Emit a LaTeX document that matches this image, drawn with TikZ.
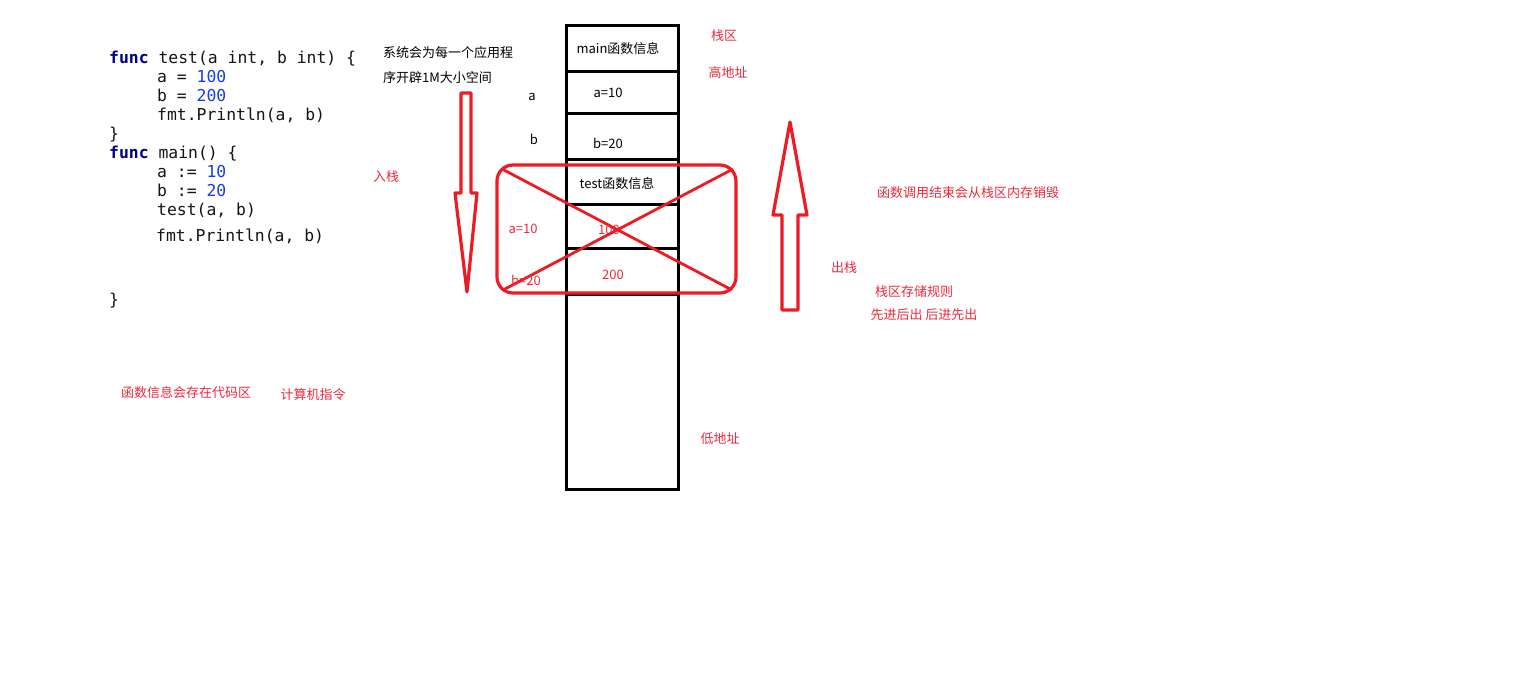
\documentclass[tikz,border=0pt]{standalone}
\usepackage{fontspec}
\setmainfont{Noto Sans CJK SC}
\newfontfamily\codefont{DejaVu Sans Mono}
\definecolor{pred}{RGB}{237,28,36}
\definecolor{tred}{RGB}{240,40,60}
\definecolor{kw}{RGB}{0,0,128}
\definecolor{num}{RGB}{23,60,235}
\definecolor{txt}{RGB}{20,20,20}
\begin{document}
\begin{tikzpicture}[x=1pt,y=-1pt,
  code/.style={anchor=base west,inner sep=0pt,font=\codefont\fontsize{16.4}{19}\selectfont,text=txt},
  lbl/.style={inner sep=0pt,font=\fontsize{13}{15}\selectfont,text=black},
  rlbl/.style={lbl,text=tred},
  stackline/.style={line width=3pt,black},
  redline/.style={line width=3.2pt,pred}]
\useasboundingbox[fill=white] (0,0) rectangle (1532,699);
% code
\node[code] (c1) at (109,63) {\textbf{\textcolor{kw}{func}} test(a int, b int) \{};
\node[code] (c2) at (157,82) {a = \textcolor{num}{100}};
\node[code] (c3) at (157,101) {b = \textcolor{num}{200}};
\node[code] (c4) at (157,120) {fmt.Println(a, b)};
\node[code] (c5) at (109,139) {\}};
\node[code] (c6) at (109,158) {\textbf{\textcolor{kw}{func}} main() \{};
\node[code] (c7) at (157,177) {a := \textcolor{num}{10}};
\node[code] (c8) at (157,196) {b := \textcolor{num}{20}};
\node[code] (c9) at (157,215) {test(a, b)};
\node[code] (c10) at (156,241) {fmt.Println(a, b)};
\node[code] (c11) at (109,305) {\}};
% stack column
\draw[stackline] (566,25) rectangle (678,489);
\foreach \yy in {71,113,159,204,248,294}
  \draw[stackline] (566,\yy) -- (678,\yy);
\node[lbl] (m1) at (618,49) {main函数信息};
\node[lbl] (m2) at (608,93) {a=10};
\node[lbl] (m3) at (608,143) {b=20};
\node[lbl] (t1) at (617,184) {test函数信息};
\node[rlbl] (t2) at (609,230) {100};
\node[rlbl] (t3) at (613,275) {200};
% red crossed box
\draw[redline,rounded corners=16pt] (497,165) rectangle (736,293);
\draw[line width=2.8pt,pred] (502,169) -- (732,290);
\draw[line width=2.8pt,pred] (733,169) -- (503,290);
\node[rlbl] (ra) at (523,229) {a=10};
\node[rlbl] (rb) at (526,280) {b=20};
% left labels
\node[lbl,anchor=west] (s1) at (383,53) {系统会为每一个应用程};
\node[lbl,anchor=west] (s2) at (383,78) {序开辟1M大小空间};
\node[lbl] (la) at (532,97) {a};
\node[lbl] (lb) at (534,139) {b};
\node[rlbl] (in) at (386,177) {入栈};
% down arrow
\draw[redline,line join=round] (461,93) -- (471,93) -- (471,193) -- (477,193) -- (467,292) -- (455,193) -- (461,193) -- cycle;
% up arrow
\draw[redline,line join=round] (790,122) -- (807,215) -- (798,215) -- (798,310) -- (782,310) -- (782,215) -- (773,215) -- cycle;
% right labels
\node[rlbl] (z1) at (724,36) {栈区};
\node[rlbl] (z2) at (728,73) {高地址};
\node[rlbl] (z3) at (720,439) {低地址};
\node[rlbl,anchor=west] (d1) at (877,193) {函数调用结束会从栈区内存销毁};
\node[rlbl] (o1) at (844,268) {出栈};
\node[rlbl] (r1) at (914,292) {栈区存储规则};
\node[rlbl] (r2) at (924,315) {先进后出 后进先出};
% bottom labels
\node[rlbl] (f1) at (186,393) {函数信息会存在代码区};
\node[rlbl] (f2) at (313,395) {计算机指令};
\end{tikzpicture}
\end{document}
